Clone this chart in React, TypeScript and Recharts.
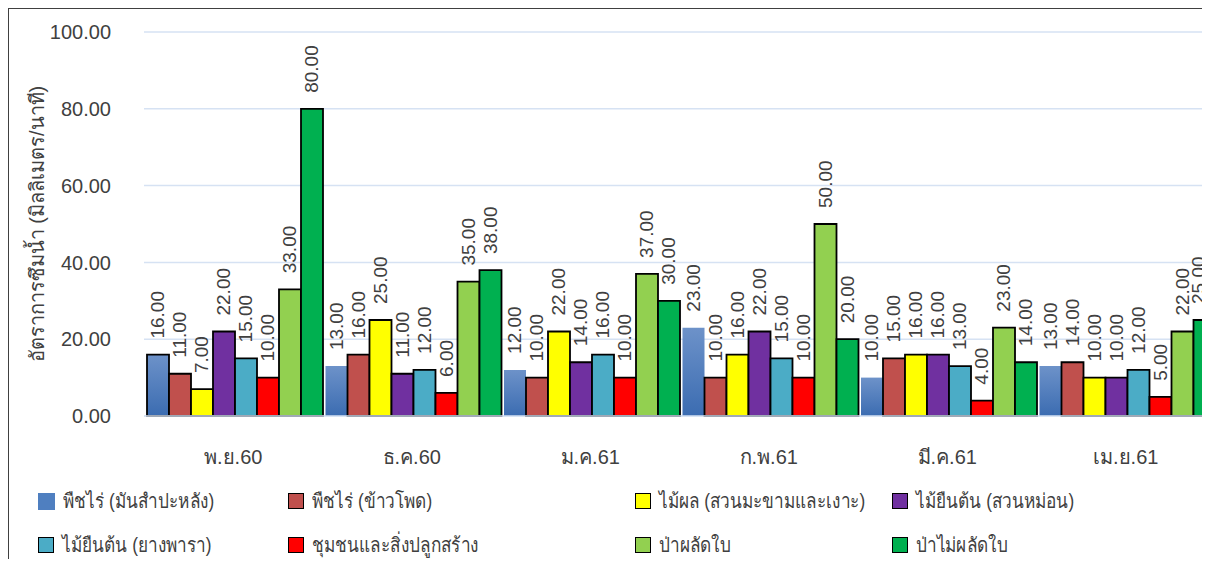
import React from "react";
import {
  BarChart,
  Bar,
  XAxis,
  YAxis,
  CartesianGrid,
  Legend,
  LabelList,
  Cell,
} from "recharts";

const months = ["พ.ย.60", "ธ.ค.60", "ม.ค.61", "ก.พ.61", "มี.ค.61", "เม.ย.61"];

const seriesNames = [
  "พืชไร่ (มันสำปะหลัง)",
  "พืชไร่ (ข้าวโพด)",
  "ไม้ผล (สวนมะขามและเงาะ)",
  "ไม้ยืนต้น (สวนหม่อน)",
  "ไม้ยืนต้น (ยางพารา)",
  "ชุมชนและสิ่งปลูกสร้าง",
  "ป่าผลัดใบ",
  "ป่าไม่ผลัดใบ",
];

const cassava = [16, 13, 12, 23, 10, 13];
const corn = [11, 16, 10, 10, 15, 14];
const fruit = [7, 25, 22, 16, 16, 10];
const mulberry = [22, 11, 14, 22, 16, 10];
const rubber = [15, 12, 16, 15, 13, 12];
const community = [10, 6, 10, 10, 4, 5];
const deciduous = [33, 35, 37, 50, 23, 22];
const evergreen = [80, 38, 30, 20, 14, 25];

const yTicks = [0, 20, 40, 60, 80, 100];

const seriesValues = [cassava, corn, fruit, mulberry, rubber, community, deciduous, evergreen];
const FILLS = [
  "url(#blueGrad)",
  "#c0504d",
  "#ffff00",
  "#7030a0",
  "#4bacc6",
  "#ff0000",
  "#92d050",
  "#00b050",
];
const LEGEND_SWATCH = ["#4f7fc0", ...FILLS.slice(1)];

const chartData = months.map((m, i) => {
  const row: Record<string, unknown> = { month: m };
  seriesNames.forEach((name, s) => {
    row[`s${s}`] = seriesValues[s][i];
  });
  return row;
});

const FONT = '"Liberation Sans", Arial, "Noto Sans", sans-serif';
const TEXT = "#404040";

// legend entries (chart coords), 4 columns x 2 rows
const LEGEND_COLS = [29, 279, 626, 883];
const LEGEND_ROWS = [25, 69];
const LABEL_MAX_X = 1189;

if (typeof document !== "undefined") {
  document.body.style.overflow = "hidden";
}

function RotatedLabel(props: any) {
  const { x, y, width, value } = props;
  const cx = Math.min(Number(x) + Number(width) / 2, LABEL_MAX_X);
  const y0 = Number(y) - 16;
  return (
    <text
      x={cx}
      y={y0}
      transform={`rotate(-90 ${cx} ${y0})`}
      textAnchor="start"
      dominantBaseline="central"
      fill={TEXT}
      fontSize={19}
      fontFamily={FONT}
    >
      {Number(value).toFixed(2)}
    </text>
  );
}

function LegendBox() {
  return (
    <div style={{ position: "relative", height: 100, width: 1200 }}>
      {seriesNames.map((name, i) => {
        const col = i % 4;
        const row = Math.floor(i / 4);
        return (
          <div
            key={name}
            style={{
              position: "absolute",
              left: LEGEND_COLS[col],
              top: LEGEND_ROWS[row],
              display: "flex",
              alignItems: "center",
              fontFamily: FONT,
              fontSize: 20,
              color: TEXT,
              whiteSpace: "nowrap",
            }}
          >
            <span
              style={{
                display: "inline-block",
                width: i === 0 ? 17 : 14,
                height: i === 0 ? 17 : 14,
                background: LEGEND_SWATCH[i],
                border: i === 0 ? "none" : "1.5px solid #000",
                marginRight: 8,
              }}
            />
            <span
              style={{
                display: "inline-block",
                transform: "scaleX(0.86)",
                transformOrigin: "left center",
              }}
            >
              {name}
            </span>
          </div>
        );
      })}
    </div>
  );
}

export default function App() {
  return (
    <div
      style={{
        position: "relative",
        width: 1230,
        height: 551,
        overflow: "hidden",
        borderLeft: "1.5px solid #404040",
        borderTop: "1.5px solid #404040",
        boxSizing: "border-box",
        background: "#fff",
      }}
    >
      <BarChart
        width={1240}
        height={551}
        data={chartData}
        margin={{ top: 23, right: 34, left: 5, bottom: 0 }}
        barCategoryGap={3}
        barGap={0}
      >
        <defs>
          <linearGradient id="blueGrad" x1="0" y1="0" x2="0" y2="1">
            <stop offset="0%" stopColor="#6d92c9" />
            <stop offset="100%" stopColor="#3b6cb1" />
          </linearGradient>
        </defs>
        <CartesianGrid vertical={false} stroke="#d6e2f3" strokeWidth={1.5} />
        <XAxis
          dataKey="month"
          height={44}
          axisLine={{ stroke: "#d6e2f3", strokeWidth: 1.5 }}
          tickLine={false}
          tickSize={0}
          tickMargin={34}
          interval={0}
          tick={{ fill: TEXT, fontSize: 20, fontFamily: FONT }}
        />
        <YAxis
          width={130}
          domain={[0, 100]}
          ticks={yTicks}
          axisLine={false}
          tickLine={false}
          tickSize={0}
          tickMargin={33}
          tickFormatter={(v) => Number(v).toFixed(2)}
          tick={{ fill: TEXT, fontSize: 20, fontFamily: FONT }}
          label={{
            content: (p: any) => {
              const vb = p.viewBox || {};
              const cy = Number(vb.y) + Number(vb.height) / 2;
              const cx = 28;
              return (
                <text
                  x={cx}
                  y={cy}
                  transform={`rotate(-90 ${cx} ${cy})`}
                  textAnchor="middle"
                  dominantBaseline="central"
                  fill={TEXT}
                  fontSize={20}
                  fontFamily={FONT}
                >
                  อัตราการซึมน้ำ (มิลลิเมตร/นาที)
                </text>
              );
            },
          }}
        />
        <Legend
          verticalAlign="bottom"
          height={100}
          wrapperStyle={{ left: 0, width: 1240 }}
          content={() => <LegendBox />}
        />
        {seriesNames.map((name, s) => (
          <Bar
            key={name}
            dataKey={`s${s}`}
            name={name}
            fill={FILLS[s]}
            stroke="#000"
            strokeWidth={1.8}
            isAnimationActive={false}
          >
            {s === 0 &&
              months.map((m, i) => (
                <Cell key={m} fill={FILLS[0]} stroke={i === 0 ? "#000" : "none"} />
              ))}
            <LabelList dataKey={`s${s}`} content={<RotatedLabel />} />
          </Bar>
        ))}
      </BarChart>
    </div>
  );
}
